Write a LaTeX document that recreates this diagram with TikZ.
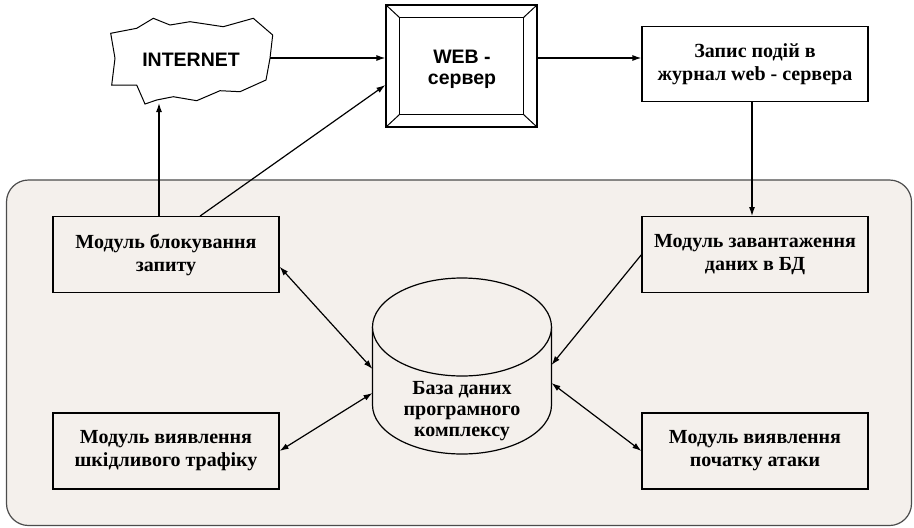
\documentclass[tikz,border=0pt]{standalone}
\usepackage{fontspec}
\setmainfont{Liberation Serif}
\newfontfamily\webfont{Liberation Sans}
\usetikzlibrary{arrows.meta,calc}
\definecolor{panel}{RGB}{244,240,236}
\tikzset{
  module/.style={draw, line width=1.2pt, fill=panel, minimum width=226pt, minimum height=76pt,
    inner sep=0pt, align=center, font=\bfseries\fontsize{20}{23}\selectfont},
  sanslabel/.style={font=\webfont\bfseries\fontsize{19.5}{21}\selectfont, align=center},
  link/.style={line width=1.2pt, -{Latex[length=9pt,width=6pt]}},
  duplex/.style={line width=1.2pt, {Latex[length=9pt,width=6pt]}-{Latex[length=9pt,width=6pt]}},
}
\begin{document}
\begin{tikzpicture}[x=1pt,y=-1pt]
\useasboundingbox (0,0) rectangle (914,528);
% program complex
\draw[line width=1.2pt, draw=black!70, fill=panel, rounded corners=22pt] (6.5,180) rectangle (911.5,525.5);

% internet
\draw[line width=1pt, fill=white] (110.7,33.3) -- (136.7,28.3) -- (153.3,18.3) -- (170,25) -- (190,21.7)
  -- (223.3,26.7) -- (253.3,18.3) -- (272.7,35) -- (270,58.3) -- (266,80) -- (240,91.7) -- (220,90.7)
  -- (196.7,100.7) -- (173.3,96.7) -- (156.7,100) -- (145,104) -- (136.7,85) -- (111.7,85)
  -- (115,58.3) -- cycle;
\node[sanslabel] (inet) at (191,60) {INTERNET};
\coordinate (inetE) at (270,58);
\coordinate (inetS) at (159,103);

% web server
\node[draw, line width=1.2pt, fill=white, minimum width=151pt, minimum height=122pt] (web) at (461.5,66) {};
\node[sanslabel] (webtext) at (462,69.5) {WEB -\\сервер};
\draw[line width=1pt] ($(web.north west)+(14.5,13.5)$) rectangle ($(web.south east)+(-14.5,-13.5)$);
\foreach \c/\dx/\dy in {north west/14.5/13.5, north east/-14.5/13.5, south west/14.5/-13.5, south east/-14.5/-13.5}
  \draw[line width=1pt] (web.\c) -- ++(\dx,\dy);

% log
\node[module, fill=white, minimum height=75pt] (log) at (755,64) {Запис подій в\\журнал web - сервера};

% modules
\node[module] (block) at (166,254.7) {Модуль блокування\\запиту};
\node[module] (load) at (755,254.7) {Модуль завантаження\\даних в БД};
\node[module] (detect) at (166,451) {Модуль виявлення\\шкідливого трафіку};
\node[module] (attack) at (755,451) {Модуль виявлення\\початку атаки};

% database
\draw[line width=1.2pt, fill=panel] (372.5,327) -- (372.5,405)
  .. controls (372.5,432.06) and (412.6,454) .. (462,454)
  .. controls (511.4,454) and (551.5,432.06) .. (551.5,405) -- (551.5,327);
\draw[line width=1.2pt, fill=panel] (462,327) ellipse [x radius=89.5, y radius=49];
\node[font=\bfseries\fontsize{20}{21}\selectfont, align=center] (db) at (462,411) {База даних\\програмного\\комплексу};
\coordinate (dbA) at (372.5,369);
\coordinate (dbB) at (372.5,393);
\coordinate (dbC) at (551.5,365);
\coordinate (dbD) at (551.5,383);

% connectors
\draw[link] (inetE) -- (inetE -| web.west);
\draw[link] ($(block.north)+(34,0)$) -- ($(web.west)+(0,19)$);
\draw[link] (block.north -| inetS) -- (inetS);
\draw[link] (inetE -| web.east) -- (inetE -| log.west);
\draw[link] ($(log.south)+(-3,0)$) -- ($(load.north)+(-3,0)$);
\draw[link] (load.west) -- (dbC);
\draw[duplex] ($(block.east)+(0,12)$) -- (dbA);
\draw[duplex] (detect.east) -- (dbB);
\draw[duplex] (dbD) -- (attack.west);
\end{tikzpicture}
\end{document}
